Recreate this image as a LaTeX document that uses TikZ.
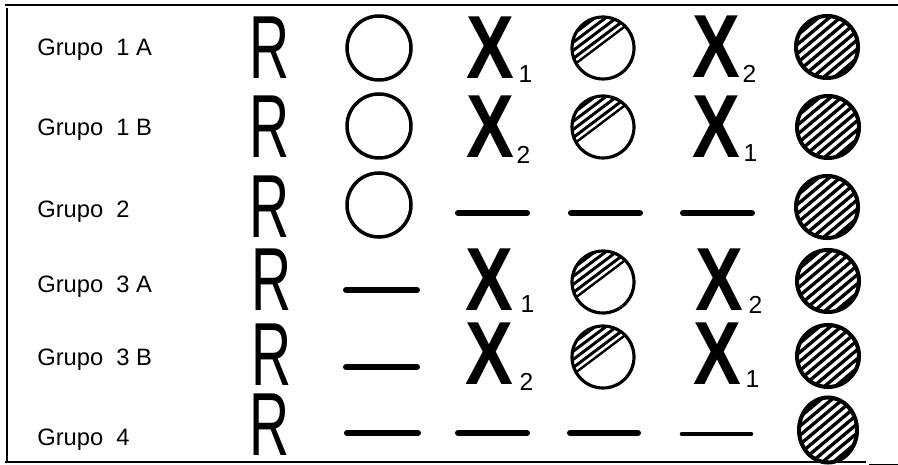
\documentclass[tikz,border=0pt]{standalone}
\usepackage{fontspec}
\setmainfont{Liberation Sans}
\usetikzlibrary{positioning, shapes.geometric, calc}

\begin{document}
\begin{tikzpicture}[
    x=0.02cm, y=-0.02cm,
    lbl/.style={anchor=west, inner sep=0, font=\fontsize{13.5}{16}\selectfont},
    rsym/.style={inner sep=0, font=\fontsize{51}{51}\selectfont},
    xsym/.style={inner sep=0, font=\fontsize{51}{51}\selectfont\bfseries},
    sub/.style={inner sep=0, font=\fontsize{14}{16}\selectfont},
    ring/.style={circle, draw, line width=2pt, minimum size=1.28cm, inner sep=0},
    half/.style={circle, draw, line width=1.8pt, minimum size=1.24cm, inner sep=0,
      path picture={
        \coordinate (hc) at (path picture bounding box.center);
        \clip ($(hc)+(-127:3)+(-37:50)$) -- ($(hc)+(-127:3)+(143:50)$)
          -- ($(hc)+(-127:60)+(143:50)$) -- ($(hc)+(-127:60)+(-37:50)$) -- cycle;
        \foreach \d in {3,9.5,16,22.5,29}
          \draw[line width=1.7pt] ($(hc)+(-127:\d)+(-37:45)$)
            -- ($(hc)+(-127:\d)+(143:45)$);
        \draw[line width=2pt] ($(hc)+(-127:3.5)+(-37:45)$) -- ($(hc)+(-127:3.5)+(143:45)$);}},
    full/.style={circle, draw, line width=2.3pt, minimum size=1.24cm, inner sep=0,
      path picture={
        \coordinate (fc) at (path picture bounding box.center);
        \foreach \d in {0,7,...,70}
          \draw[line width=1.9pt] ($(fc)+(-130:35)+(50:\d)+(-40:45)$)
            -- ($(fc)+(-130:35)+(50:\d)+(140:45)$);}},
    bar/.style={line width=3.4pt, line cap=round}
  ]
  \useasboundingbox (0,0) rectangle (898,465);

  % frame
  \draw[line width=1.2pt] (5,5) -- (898,5);
  \draw[line width=1.4pt] (7,8) -- (7,462);
  \draw[line width=1.5pt] (5,462) -- (866,462);
  \draw[line width=1.2pt] (869,465) -- (898,465);

  % labels
  \node[lbl] (g1a) at (37,50)  {Grupo\ \ 1 A};
  \node[lbl] (g1b) at (37,130) {Grupo\ \ 1 B};
  \node[lbl] (g2)  at (37,212) {Grupo\ \ 2};
  \node[lbl] (g3a) at (37,287) {Grupo\ \ 3 A};
  \node[lbl] (g3b) at (37,360) {Grupo\ \ 3 B};
  \node[lbl] (g4)  at (37,440) {Grupo\ \ 4};

  % R column
  \node[rsym] (r1) at (270,48)  {\scalebox{0.62}[1]{R}};
  \node[rsym] (r2) at (270,127) {\scalebox{0.62}[1]{R}};
  \node[rsym] (r3) at (270,207) {\scalebox{0.62}[1]{R}};
  \node[rsym] (r4) at (272,280) {\scalebox{0.62}[1]{R}};
  \node[rsym] (r5) at (272,355) {\scalebox{0.62}[1]{R}};
  \node[rsym] (r6) at (270,425) {\scalebox{0.62}[1]{R}};

  % empty circles / bars
  \node[ring] (o1) at (379,48)  {};
  \node[ring] (o2) at (379,126) {};
  \node[ring] (o3) at (379,205) {};
  \draw[bar] (346,290) -- (417,290);
  \draw[bar] (346,367) -- (417,367);
  \draw[bar] (347,433) -- (418,433);

  % first X column
  \node[xsym] (x1) at (490,48)  {\scalebox{0.8}[1]{X}};
  \node[sub, above right=-0.08cm and 0.08cm of x1.south east] (s1) {1};
  \node[xsym] (x2) at (490,127) {\scalebox{0.8}[1]{X}};
  \node[sub, above right=-0.12cm and 0.04cm of x2.south east] (s2) {2};
  \draw[bar] (458,213) -- (527,213);
  \node[xsym] (x4) at (489,280) {\scalebox{0.8}[1]{X}};
  \node[sub, above right=-0.04cm and 0.14cm of x4.south east] (s4) {1};
  \node[xsym] (x5) at (489,354) {\scalebox{0.8}[1]{X}};
  \node[sub, above right=-0.12cm and 0.12cm of x5.south east] (s5) {2};
  \draw[bar] (458,433) -- (527,433);

  % half hatched circles
  \node[half] (h1) at (603,48)  {};
  \node[half] (h2) at (603,127) {};
  \draw[bar] (571,213) -- (640,213);
  \node[half] (h4) at (603,282) {};
  \node[half] (h5) at (603,357) {};
  \draw[bar] (570,433) -- (638,433);

  % second X column
  \node[xsym] (y1) at (716,47)  {\scalebox{0.8}[1]{X}};
  \node[sub, above right=-0.1cm and 0.04cm of y1.south east] (t1) {2};
  \node[xsym] (y2) at (716,127) {\scalebox{0.8}[1]{X}};
  \node[sub, above right=-0.08cm and 0.06cm of y2.south east] (t2) {1};
  \draw[bar] (683,213) -- (752,213);
  \node[xsym] (y4) at (719,280) {\scalebox{0.8}[1]{X}};
  \node[sub, above right=-0.06cm and 0.1cm of y4.south east] (t4) {2};
  \node[xsym] (y5) at (717,354) {\scalebox{0.8}[1]{X}};
  \node[sub, above right=-0.06cm and 0.08cm of y5.south east] (t5) {1};
  \draw[bar, line width=2.6pt] (682,434) -- (751,434);

  % full hatched circles
  \node[full] (f1) at (827,47)  {};
  \node[full] (f2) at (828,127) {};
  \node[full] (f3) at (827,207) {};
  \node[full] (f4) at (828,281) {};
  \node[full] (f5) at (828,356) {};
  \node[full, ellipse, minimum width=1.16cm, minimum height=1.3cm] (f6) at (828,430) {};
\end{tikzpicture}
\end{document}
